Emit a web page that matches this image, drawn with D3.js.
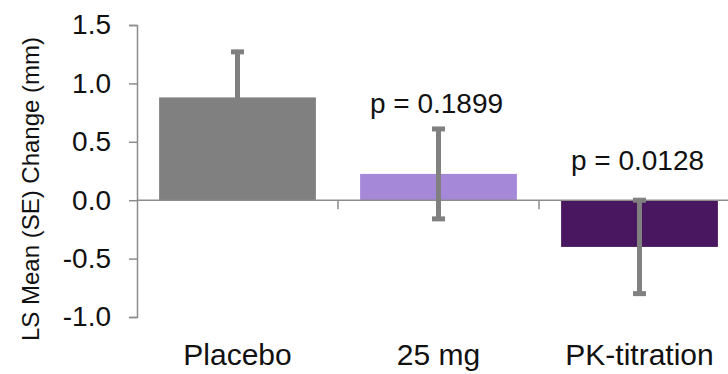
<!DOCTYPE html>
<html>
<head>
<meta charset="utf-8">
<script src="https://cdn.jsdelivr.net/npm/d3@7"></script>
<style>
  body { margin: 0; background: #fff; }
  svg { display: block; font-family: "Liberation Sans", Arial, sans-serif; }
</style>
</head>
<body>
<div id="chart"></div>
<script>
const groups = ['Placebo', '25 mg', 'PK-titration'];
const means = [0.88, 0.225, -0.40];
const errors = [0.39, 0.385, 0.40];
const pLabels = ['', 'p = 0.1899', 'p = 0.0128'];
const barColors = ['#808080', '#a688d9', '#48175f'];
const yTicks = [-1.0, -0.5, 0.0, 0.5, 1.0, 1.5];

const width = 728, height = 374;
const margin = { top: 25, right: -12, bottom: 57, left: 137 };

const svg = d3.select('#chart')
  .append('svg')
  .attr('width', width)
  .attr('height', height);

const x = d3.scaleBand()
  .domain(groups)
  .range([margin.left, width - margin.right])
  .paddingInner(0.22)
  .paddingOuter(0.11);

const y = d3.scaleLinear()
  .domain([-1.0, 1.5])
  .range([height - margin.bottom, margin.top]);

const axisColor = '#8c8c8c';

// y axis
const yAxis = svg.append('g')
  .attr('transform', `translate(${margin.left},0)`)
  .call(d3.axisLeft(y).tickValues(yTicks).tickSize(8).tickPadding(18));
yAxis.select('.domain').attr('stroke', axisColor).attr('stroke-width', 1.5);
yAxis.selectAll('.tick line').attr('stroke', axisColor).attr('stroke-width', 1.5);
yAxis.selectAll('.tick text')
  .attr('fill', '#111')
  .style('font-size', '28px')
  .text(d => d3.format('.1f')(d).replace('−', '-'));

// bars
svg.selectAll('rect.bar')
  .data(groups)
  .enter()
  .append('rect')
  .attr('class', 'bar')
  .attr('x', d => x(d))
  .attr('width', x.bandwidth())
  .attr('y', (d, i) => y(Math.max(0, means[i])))
  .attr('height', (d, i) => Math.abs(y(means[i]) - y(0)))
  .attr('fill', (d, i) => barColors[i]);

// zero line with category ticks
const zero = y(0);
svg.append('line')
  .attr('x1', margin.left).attr('x2', width)
  .attr('y1', zero).attr('y2', zero)
  .attr('stroke', axisColor).attr('stroke-width', 1.5);

const boundaries = [1, 2].map(i => margin.left + i * (width - margin.right - margin.left) / groups.length);
svg.selectAll('line.xtick')
  .data(boundaries)
  .enter()
  .append('line')
  .attr('class', 'xtick')
  .attr('x1', d => d).attr('x2', d => d)
  .attr('y1', zero).attr('y2', zero + 9)
  .attr('stroke', axisColor).attr('stroke-width', 1.5);

// error bars
const eb = svg.selectAll('g.err')
  .data(groups)
  .enter()
  .append('g')
  .attr('class', 'err')
  .attr('stroke', '#808080');

eb.append('line')
  .attr('x1', d => x(d) + x.bandwidth() / 2)
  .attr('x2', d => x(d) + x.bandwidth() / 2)
  .attr('y1', (d, i) => y(means[i] + errors[i]))
  .attr('y2', (d, i) => y(means[i] - errors[i]))
  .attr('stroke-width', 5);

[1, -1].forEach(sign => {
  eb.append('line')
    .attr('x1', d => x(d) + x.bandwidth() / 2 - 6.5)
    .attr('x2', d => x(d) + x.bandwidth() / 2 + 6.5)
    .attr('y1', (d, i) => y(means[i] + sign * errors[i]))
    .attr('y2', (d, i) => y(means[i] + sign * errors[i]))
    .attr('stroke-width', 5);
});

// p-value labels, sitting above the error bar or the zero line
const pOffsets = [0, 16, 30];
svg.selectAll('text.pval')
  .data(groups)
  .enter()
  .append('text')
  .attr('class', 'pval')
  .attr('x', d => x(d) + x.bandwidth() / 2 - 2)
  .attr('y', (d, i) => y(Math.max(0, means[i] + errors[i])) - pOffsets[i])
  .attr('text-anchor', 'middle')
  .attr('fill', '#111')
  .style('font-size', '28px')
  .text((d, i) => pLabels[i]);

// category labels
svg.selectAll('text.cat')
  .data(groups)
  .enter()
  .append('text')
  .attr('class', 'cat')
  .attr('x', d => x(d) + x.bandwidth() / 2)
  .attr('y', 365)
  .attr('text-anchor', 'middle')
  .attr('fill', '#111')
  .style('font-size', '30px')
  .text(d => d);

// y axis title
svg.append('text')
  .attr('transform', `translate(39,${(margin.top + height - margin.bottom) / 2 + 18}) rotate(-90)`)
  .attr('text-anchor', 'middle')
  .attr('fill', '#111')
  .style('font-size', '24px')
  .text('LS Mean (SE) Change (mm)');
</script>
</body>
</html>
